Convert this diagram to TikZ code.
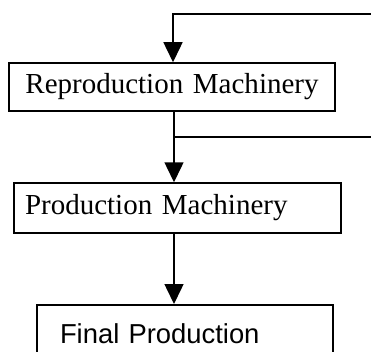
\documentclass[tikz,border=0pt]{standalone}
\usepackage{fontspec}
\setmainfont{Liberation Serif}
\newfontfamily\finalfont{Liberation Sans}
\usetikzlibrary{arrows.meta,positioning,calc}

\begin{document}
\begin{tikzpicture}[x=1pt,y=1pt,
    box/.style={draw, line width=1.5pt, inner ysep=0pt, minimum height=48pt,
        font=\fontsize{29}{32}\selectfont},
    flow/.style={line width=1.5pt, -{Triangle[width=19pt,length=20pt]}},
    link/.style={line width=1.5pt}]
    \useasboundingbox (0,0) rectangle (371,351);
    \clip (0,0) rectangle (371,351);

    % Machinery boxes
    \node[box, inner xsep=13pt, text width=300pt, align=center] (repro) at (172,264) {Reproduction Machinery};
    \node[box, inner xsep=11pt, text width=305pt, align=left, minimum height=50pt] (prod) at (177.5,143) {Production Machinery};

    % Final box (cut by the lower edge)
    \node[draw, line width=1.5pt, anchor=north, inner xsep=23pt, inner ysep=19pt, text width=250pt,
        align=left, font=\finalfont\fontsize{27.4}{30}\selectfont] (final) at (185,47) {Final Production};

    % Feedback lines
    \coordinate (fbin) at (371,337);
    \coordinate (fbout) at (371,214);
    \draw[flow] (fbin) -| ([xshift=1pt]repro.north);
    \draw[flow] ([xshift=2pt]repro.south) -- ([xshift=2pt]repro.south |- prod.north);
    \draw[link] ([xshift=2pt]repro.south |- fbout) -- (fbout);
    \draw[flow] ([xshift=-3.5pt]prod.south) -- ([xshift=-3.5pt]prod.south |- final.north);

\end{tikzpicture}
\end{document}
